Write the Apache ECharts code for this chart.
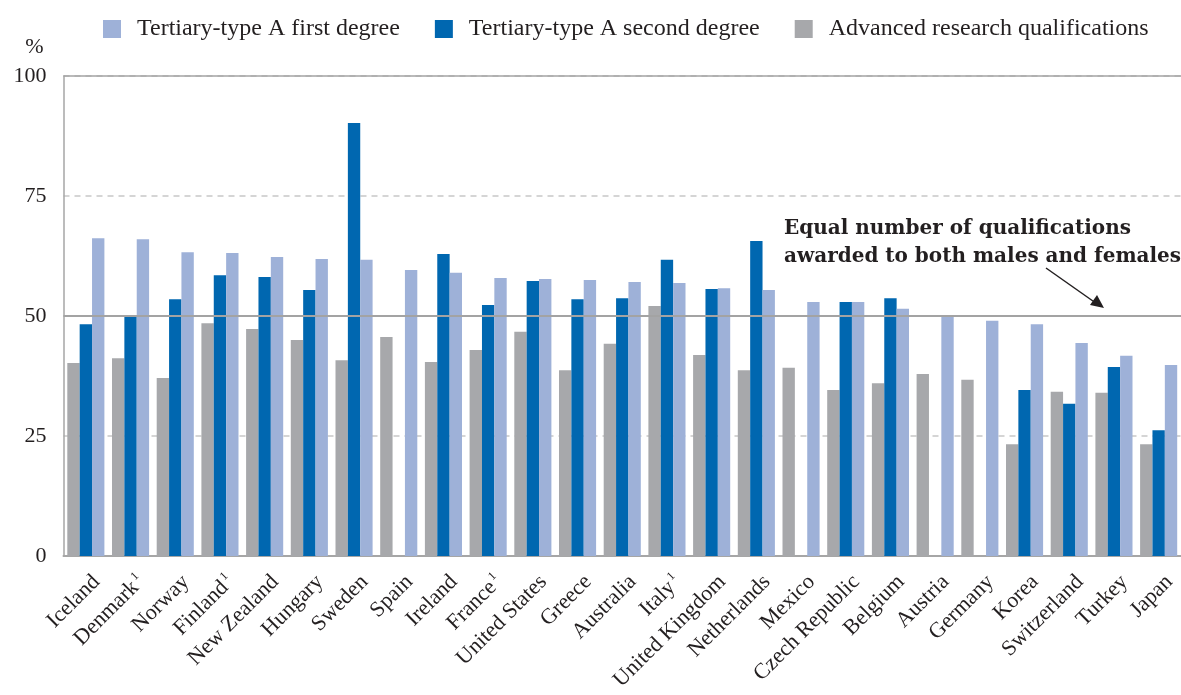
<!DOCTYPE html>
<html>
<head>
<meta charset="utf-8">
<script src="https://cdn.jsdelivr.net/npm/echarts@6/dist/echarts.min.js"></script>
<style>
html,body{margin:0;padding:0;background:#fff;}
#chart{width:1181px;height:695px;}
</style>
</head>
<body>
<div id="chart"></div>
<script>
const countries = ["Iceland","Denmark{s|1}","Norway","Finland{s|1}","New Zealand","Hungary","Sweden","Spain","Ireland","France{s|1}","United States","Greece","Australia","Italy{s|1}","United Kingdom","Netherlands","Mexico","Czech Republic","Belgium","Austria","Germany","Korea","Switzerland","Turkey","Japan"];
const advancedResearch = [40.2,41.2,37.1,48.5,47.3,45.0,40.8,45.6,40.4,42.9,46.7,38.7,44.2,52.1,41.9,38.7,39.2,34.6,36.0,37.9,36.7,23.3,34.2,34.0,23.3];
const secondDegree = [48.3,50.2,53.5,58.5,58.1,55.4,90.2,null,62.9,52.3,57.3,53.5,53.7,61.7,55.6,65.6,null,52.9,53.7,null,null,34.6,31.7,39.4,26.2];
const firstDegree = [66.2,66.0,63.3,63.1,62.3,61.9,61.7,59.6,59.0,57.9,57.7,57.5,57.1,56.9,55.8,55.4,52.9,52.9,51.5,49.8,49.0,48.3,44.4,41.7,39.8];
const yTicks = [0,25,50,75,100];
const seriesNames = ["Tertiary-type A first degree","Tertiary-type A second degree","Advanced research qualifications"];

const FONT = "'Liberation Serif', 'DejaVu Serif', serif";
const TXT = '#231f20';
const C_LIGHT = '#9eb1d8', C_DARK = '#0067b0', C_GREY = '#a7a8ab';

const chart = echarts.init(document.getElementById('chart'), null, {renderer:'canvas'});
chart.setOption({
  animation:false,
  backgroundColor:'#fff',
  grid:{left:63.5, right:0, top:76, bottom:139, containLabel:false},
  legend:{
    data:seriesNames,
    left:103, top:17, padding:0,
    itemWidth:18, itemHeight:18, itemGap:35, icon:'rect',
    textStyle:{fontFamily:FONT, fontSize:24, color:TXT, padding:[0,0,0,11]}
  },
  xAxis:{
    type:'category', data:countries,
    axisLine:{lineStyle:{color:'#a6a6a6', width:2}},
    axisTick:{show:false},
    axisLabel:{
      interval:0, rotate:45, margin:12, padding:[30,0,0,0],
      fontFamily:FONT, fontSize:22, color:TXT,
      rich:{s:{fontFamily:FONT, fontSize:12, color:TXT, verticalAlign:'top', padding:[0,0,12,2]}}
    }
  },
  yAxis:{
    type:'value', min:0, max:100, interval:25,
    name:'%', nameLocation:'end', nameGap:29,
    nameTextStyle:{fontFamily:FONT, fontSize:22, color:TXT, align:'right', verticalAlign:'middle', padding:[0,20,0,0]},
    axisLine:{show:true, lineStyle:{color:'#a6a6a6', width:1.5}},
    axisTick:{show:false},
    axisLabel:{fontFamily:FONT, fontSize:22, color:TXT, margin:17, padding:[3,0,0,0],
      formatter:function(v){return yTicks.indexOf(v)>=0 ? String(v) : '';}},
    splitLine:{show:true, lineStyle:{color:'#c8c8c8', type:[6,5], width:1.5}}
  },
  series:[
    {name:seriesNames[2], type:'bar', data:advancedResearch, itemStyle:{color:C_GREY}, barGap:'0%', barCategoryGap:'17%',
      markLine:{silent:true, symbol:'none', label:{show:false},
        data:[{yAxis:50, lineStyle:{color:'#a3a3a3', type:'solid', width:2}},
              {yAxis:100, lineStyle:{color:'#a3a3a3', type:'solid', width:1.5}}]}},
    {name:seriesNames[1], type:'bar', data:secondDegree, itemStyle:{color:C_DARK}, barGap:'0%', barCategoryGap:'17%'},
    {name:seriesNames[0], type:'bar', data:firstDegree, itemStyle:{color:C_LIGHT}, barGap:'0%', barCategoryGap:'17%'}
  ],
  graphic:[
    {type:'text', left:784, top:215, style:{text:'Equal number of qualifications\nawarded to both males and females', font:"bold 20px 'DejaVu Serif', serif", fill:TXT, lineHeight:28}},
    {type:'line', shape:{x1:1046, y1:268, x2:1100, y2:306}, style:{stroke:'#231f20', lineWidth:1.5}},
    {type:'polygon', shape:{points:[[1104,308],[1090,305],[1097,295]]}, style:{fill:'#231f20'}}
  ]
});
</script>
</body>
</html>
